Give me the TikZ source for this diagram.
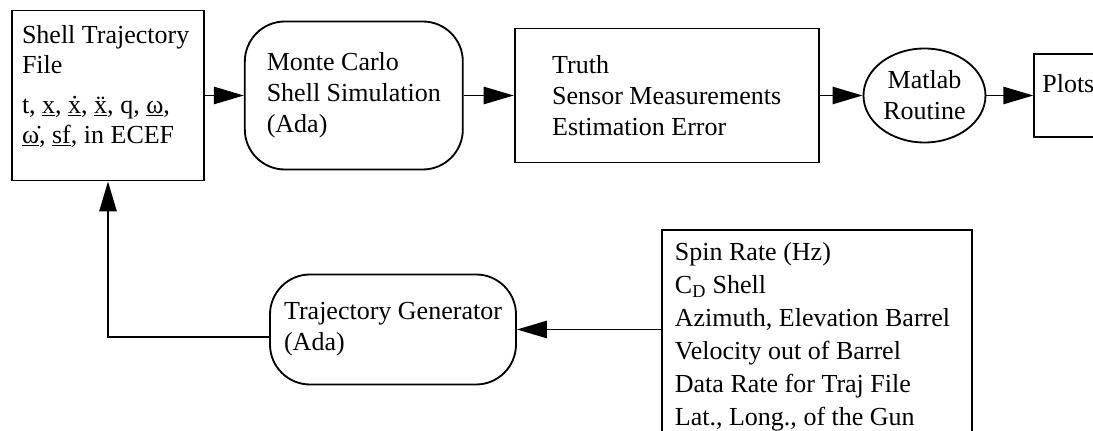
\documentclass[tikz,border=0pt]{standalone}
\usepackage{fontspec}
\setmainfont{Liberation Serif}
\usetikzlibrary{positioning,shapes.geometric,arrows.meta}

\begin{document}
\begin{tikzpicture}[
    every node/.style={font=\fontsize{18.5}{22}\selectfont},
    block/.style={rectangle,draw,line width=1.3pt},
    proc/.style={rectangle,draw,line width=1.3pt,rounded corners=1cm,align=left},
    oval/.style={ellipse,draw,line width=1.3pt,align=center,inner sep=0pt},
    arrow/.style={-{Triangle[length=0.75cm,width=0.43cm]},line width=1.4pt}
]
\useasboundingbox (0,0) rectangle (27.325,10.775);

% Simulation chain (top row)
\node[block,inner xsep=0.25cm,inner ysep=0.375cm] (file) at (2.7,8.3875) {\parbox[t][3.5cm][t]{4.3cm}{\raggedright\fontsize{18.5}{21.3}\selectfont
Shell Trajectory\\File\\[0.25cm]
t, \underline{x}, \underline{\.{x}}, \underline{\"{x}}, q, \underline{ω},\\
\underline{\.{ω}}, \underline{sf}, in ECEF}};
\node[proc,minimum width=5.45cm,minimum height=3.7cm,right=0.975cm of file] (montecarlo) {Monte Carlo\\Shell Simulation\\(Ada)};
\node[block,align=left,minimum width=7.6cm,minimum height=3.35cm,right=1.25cm of montecarlo] (truth) {Truth\\Sensor Measurements\\Estimation Error};
\node[oval,minimum width=3.05cm,minimum height=2.35cm,right=1.075cm of truth] (matlab) {Matlab\\Routine};
\node[block,text width=2cm,inner xsep=0.2cm,inner ysep=0.1cm,text height=0.875cm,text depth=1.0cm,right=1.175cm of matlab] (plots) {Plots};

\draw[arrow] (file) -- (montecarlo);
\draw[arrow] (montecarlo) -- (truth);
\draw[arrow] (truth) -- (matlab);
\draw[arrow] (matlab) -- (plots);

% Trajectory generation (bottom row)
\node[proc,minimum width=6.15cm,minimum height=2.75cm] (trajgen) at (9.825,2.5375) {Trajectory Generator\\(Ada)};
\node[block,anchor=north west,inner xsep=0.325cm,inner ysep=0.325cm] (params) at (16.525,5.05) {\parbox[t][6cm][t]{7.1cm}{\raggedright\fontsize{18.5}{23.4}\selectfont
Spin Rate (Hz)\\C\textsubscript{D} Shell\\Azimuth, Elevation Barrel\\Velocity out of Barrel\\Data Rate for Traj File\\Lat., Long., of the Gun}};

\draw[arrow] (params.west |- trajgen) -- (trajgen);
\draw[arrow] ([yshift=-0.19cm]trajgen.west) -| (file);

\end{tikzpicture}
\end{document}
